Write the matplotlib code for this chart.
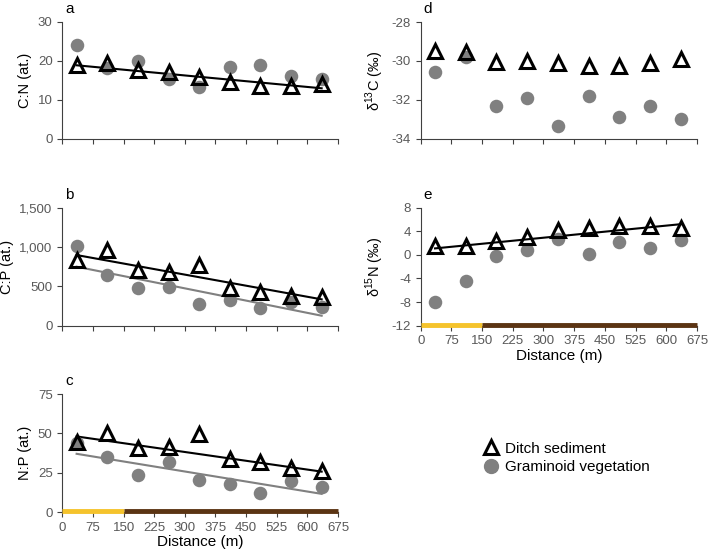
import numpy as np
import matplotlib
matplotlib.use('Agg')
import matplotlib.pyplot as plt
from matplotlib.lines import Line2D

plt.rcParams['font.family'] = ['Liberation Sans', 'DejaVu Sans']
plt.rcParams['axes.unicode_minus'] = False

# Sampling distances (m)
distance = [35, 110, 185, 260, 335, 410, 485, 560, 635]

# C:N (at.)
cn_sed = [19.0, 19.5, 17.6, 17.1, 15.9, 14.5, 13.7, 13.7, 14.0]
cn_veg = [24.0, 18.2, 20.0, 15.4, 13.4, 18.4, 18.9, 16.1, 15.3]
cn_sed_line = [18.9, 13.0]

# C:P (at.)
cp_sed = [835, 965, 705, 685, 770, 475, 425, 375, 370]
cp_veg = [1010, 640, 475, 495, 275, 325, 230, 305, 235]
cp_sed_line = [898, 335]
cp_veg_line = [750, 127]

# N:P (at.)
np_sed = [44.3, 50.2, 40.7, 41.3, 49.6, 33.7, 31.8, 28.0, 26.5]
np_veg = [43.9, 35.0, 23.7, 32.2, 20.6, 18.0, 12.5, 19.9, 16.3]
np_sed_line = [48.1, 25.8]
np_veg_line = [37.1, 11.7]

# delta 13C (permil)
d13c_sed = [-29.48, -29.53, -30.04, -30.0, -30.12, -30.24, -30.26, -30.09, -29.9]
d13c_veg = [-30.58, -29.82, -32.33, -31.88, -33.32, -31.77, -32.88, -32.3, -33.0]

# delta 15N (permil)
d15n_sed = [1.5, 1.5, 2.35, 3.1, 4.2, 4.6, 4.9, 4.9, 4.6]
d15n_veg = [-7.9, -4.5, -0.2, 0.9, 2.7, 0.1, 2.1, 1.1, 2.6]
d15n_sed_line = [1.1, 5.2]

# zones along the transect
zone_edges = [0, 150, 675]
zone_colors = ['#F5C32C', '#5B3413']

xticks = np.arange(0, 676, 75)
tick_col = '#595959'
veg_col = '#808080'

fig = plt.figure(figsize=(7.09, 5.5), dpi=100)

left_l, right_l = 0.0879, 0.4767
left_r, right_r = 0.5934, 0.983
rows = [(0.7473, 0.96), (0.4078, 0.6224), (0.0685, 0.2836)]


def make_ax(left, right, row):
    b, t = rows[row]
    ax = fig.add_axes([left, b, right - left, t - b])
    ax.spines['top'].set_visible(False)
    ax.spines['right'].set_visible(False)
    for s in ['left', 'bottom']:
        ax.spines[s].set_color('#404040')
        ax.spines[s].set_linewidth(0.8)
    ax.tick_params(colors='#404040', labelcolor=tick_col, labelsize=9.5,
                   length=3.5, width=0.8)
    ax.set_xlim(0, 675)
    ax.set_xticks(xticks)
    return ax


def draw(ax, sed, veg, sed_line=None, veg_line=None):
    ends = [distance[0], distance[-1]]
    ax.scatter(distance, veg, s=95, color=veg_col, zorder=3, linewidths=0)
    if veg_line is not None:
        ax.plot(ends, veg_line, color=veg_col, lw=1.5, zorder=2)
    if sed_line is not None:
        ax.plot(ends, sed_line, color='black', lw=1.5, zorder=2)
    ax.plot(distance, sed, ls='none', marker='^', ms=10, mfc='none',
            mec='black', mew=2.2, zorder=4)


def zones(ax, y0):
    for i in range(len(zone_colors)):
        ax.plot(zone_edges[i:i + 2], [y0, y0], color=zone_colors[i], lw=3.5,
                solid_capstyle='butt', clip_on=False, zorder=5)


def letter(ax, s):
    ax.annotate(s, xy=(0.0, 1.0), xycoords='axes fraction', xytext=(2, 4),
                textcoords='offset points', fontsize=11, ha='left', va='bottom')


# a
ax = make_ax(left_l, right_l, 0)
draw(ax, cn_sed, cn_veg, cn_sed_line)
ax.set_ylim(0, 30)
ax.set_yticks([0, 10, 20, 30])
ax.set_xticklabels([])
ax.set_ylabel('C:N (at.)', fontsize=10.5)
letter(ax, 'a')

# b
ax = make_ax(left_l, right_l, 1)
draw(ax, cp_sed, cp_veg, cp_sed_line, cp_veg_line)
ax.set_ylim(0, 1500)
ax.set_yticks([0, 500, 1000, 1500])
ax.set_yticklabels(['0', '500', '1,000', '1,500'])
ax.set_xticklabels([])
ax.set_ylabel('C:P (at.)', fontsize=10.5)
letter(ax, 'b')

# c
ax = make_ax(left_l, right_l, 2)
draw(ax, np_sed, np_veg, np_sed_line, np_veg_line)
ax.set_ylim(0, 75)
ax.set_yticks([0, 25, 50, 75])
ax.set_ylabel('N:P (at.)', fontsize=10.5)
ax.set_xlabel('Distance (m)', fontsize=11, labelpad=1)
zones(ax, 0.6)
letter(ax, 'c')

# d
ax = make_ax(left_r, right_r, 0)
draw(ax, d13c_sed, d13c_veg)
ax.set_ylim(-34, -28)
ax.set_yticks([-34, -32, -30, -28])
ax.set_xticklabels([])
ax.set_ylabel('δ$^{\\mathregular{13}}$C (‰)', fontsize=10.5)
letter(ax, 'd')

# e
ax = make_ax(left_r, right_r, 1)
draw(ax, d15n_sed, d15n_veg, d15n_sed_line)
ax.set_ylim(-12, 8)
ax.set_yticks([-12, -8, -4, 0, 4, 8])
ax.set_ylabel('δ$^{\\mathregular{15}}$N (‰)', fontsize=10.5)
ax.set_xlabel('Distance (m)', fontsize=11, labelpad=1)
zones(ax, -11.85)
letter(ax, 'e')

handles = [
    Line2D([], [], ls='none', marker='^', ms=10, mfc='none', mec='black', mew=2.2),
    Line2D([], [], ls='none', marker='o', ms=10, mfc=veg_col, mec=veg_col),
]
fig.legend(handles, ['Ditch sediment', 'Graminoid vegetation'], loc='upper left',
           bbox_to_anchor=(0.66, 0.222), frameon=False, fontsize=11,
           handletextpad=0.3, labelspacing=0.3, handlelength=1.2)

fig.savefig('out.png', dpi=100)
